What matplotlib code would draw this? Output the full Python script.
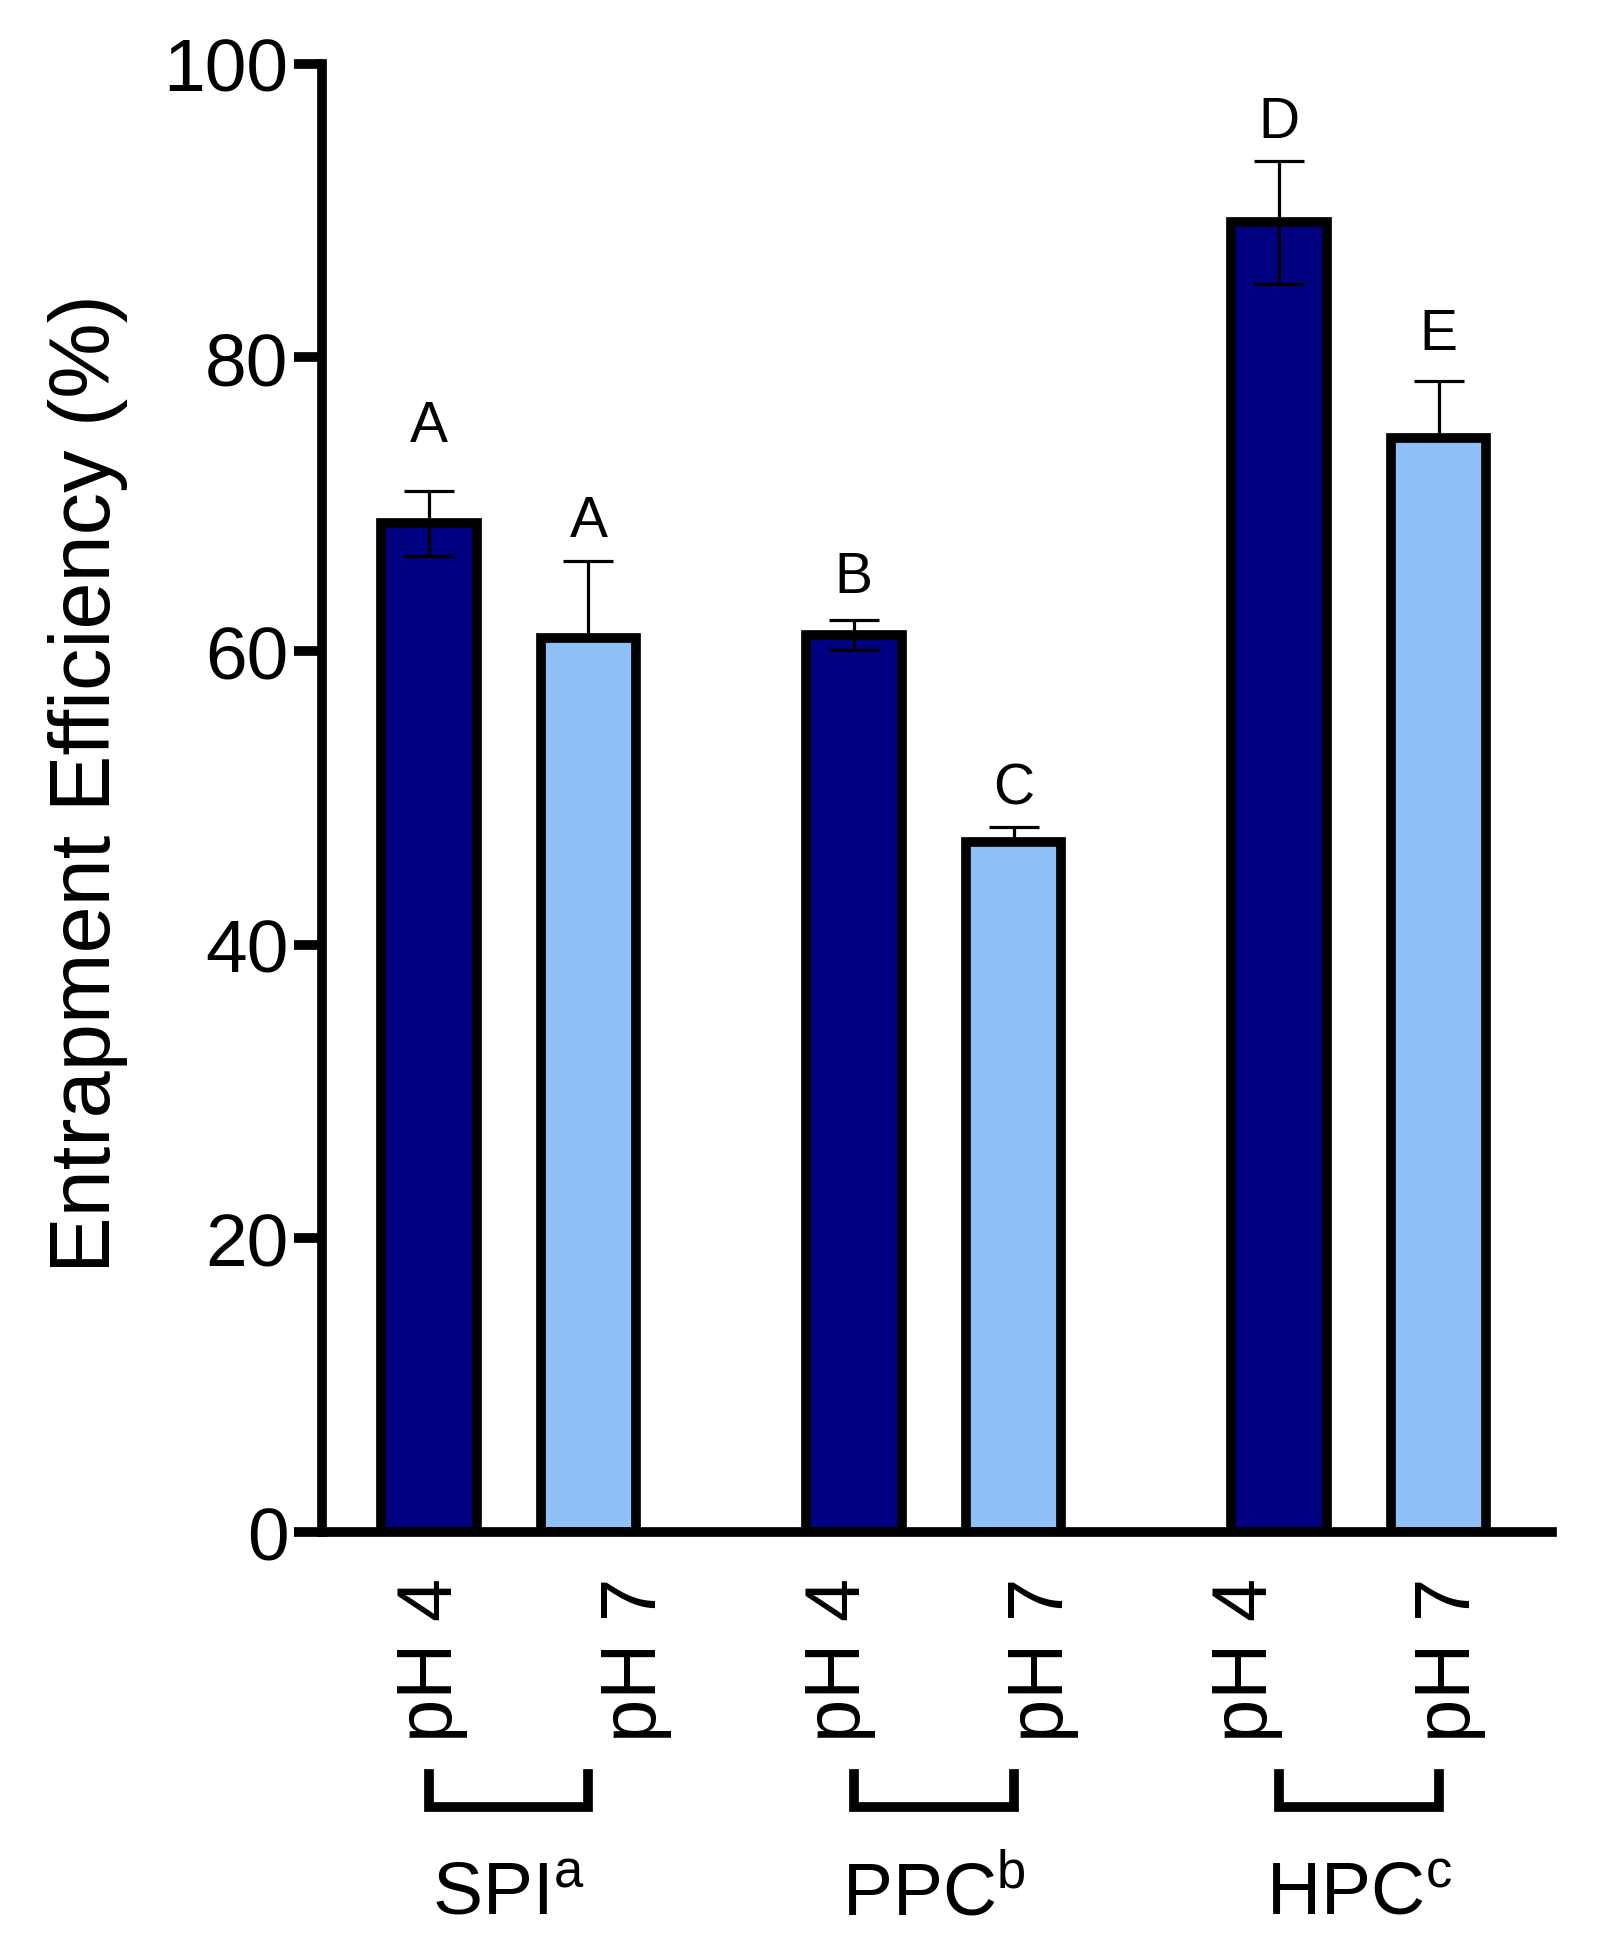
# Entrapment efficiency bar chart (SPI / PPC / HPC at pH 4 and pH 7)

import numpy as np
import matplotlib
matplotlib.use("Agg")
import matplotlib.pyplot as plt
from matplotlib.lines import Line2D
import matplotlib.transforms as mtransforms

plt.rcParams['font.family'] = ['Liberation Sans', 'DejaVu Sans']
plt.rcParams['mathtext.default'] = 'regular'

# data
groups = ["SPI", "PPC", "HPC"]
group_sup = ["a", "b", "c"]
ph_labels = ["pH 4", "pH 7", "pH 4", "pH 7", "pH 4", "pH 7"]
efficiency = [68.7, 60.9, 61.1, 47.0, 89.2, 74.5]
sd = [2.2, 5.2, 1.0, 1.0, 4.2, 3.9]
letters = ["A", "A", "B", "C", "D", "E"]
letter_y = [74.3, 67.8, 64.0, 49.6, 95.0, 80.6]

positions = [0, 1, 2.66, 3.66, 5.32, 6.32]
colors = ["#000080", "#90C0F8"] * 3

fig = plt.figure(figsize=(16, 19.58), dpi=100)
ax = fig.add_axes([0.201, 0.217, 0.769, 0.750])

ax.bar(positions, efficiency, width=0.6, color=colors, edgecolor="black",
       linewidth=7, zorder=2)

# dark bars show both sides of the error bar, light bars only the top
lower = [s if i % 2 == 0 else 0 for i, s in enumerate(sd)]
ax.errorbar(positions, efficiency, yerr=[lower, sd], fmt="none", ecolor="black",
            elinewidth=2.3, capsize=18, capthick=2.3, zorder=3)

for x, y, lab in zip(positions, letter_y, letters):
    ax.text(x, y, lab, ha="center", va="baseline", fontsize=41)

ax.set_xlim(-0.67, 7.03)
ax.set_ylim(0, 100)
ax.set_yticks([0, 20, 40, 60, 80, 100])
ax.tick_params(axis="y", labelsize=54, length=20, width=7, pad=4)

# the pH labels sit evenly spaced, not exactly under each bar
ax.set_xticks(np.linspace(0.02, 6.39, len(ph_labels)))
ax.set_xticklabels(ph_labels, rotation=90, fontsize=56, va="top")
ax.tick_params(axis="x", length=0, pad=32)

for s in ["top", "right"]:
    ax.spines[s].set_visible(False)
ax.spines["left"].set_linewidth(7)
ax.spines["bottom"].set_linewidth(7)
ax.spines["left"].set_capstyle("projecting")

fig.text(0.055, 0.60, "Entrapment Efficiency (%)", rotation=90, fontsize=61,
         ha="center", va="center")

# brackets and group names under the pH labels
trans = mtransforms.blended_transform_factory(ax.transData, fig.transFigure)
for g in range(3):
    x0 = positions[2 * g]
    x1 = positions[2 * g + 1]
    y_top = 1 - 1775 / 1958
    y_bot = 1 - 1808 / 1958
    line = Line2D([x0, x0, x1, x1], [y_top, y_bot, y_bot, y_top], color="black",
                  linewidth=7, transform=trans, clip_on=False,
                  solid_joinstyle="miter")
    fig.add_artist(line)
    fig.text((x0 + x1) / 2, 1 - 1915 / 1958,
             groups[g] + "$^{" + group_sup[g] + "}$", transform=trans,
             ha="center", va="baseline", fontsize=54)

fig.savefig("out.png", dpi=100)
